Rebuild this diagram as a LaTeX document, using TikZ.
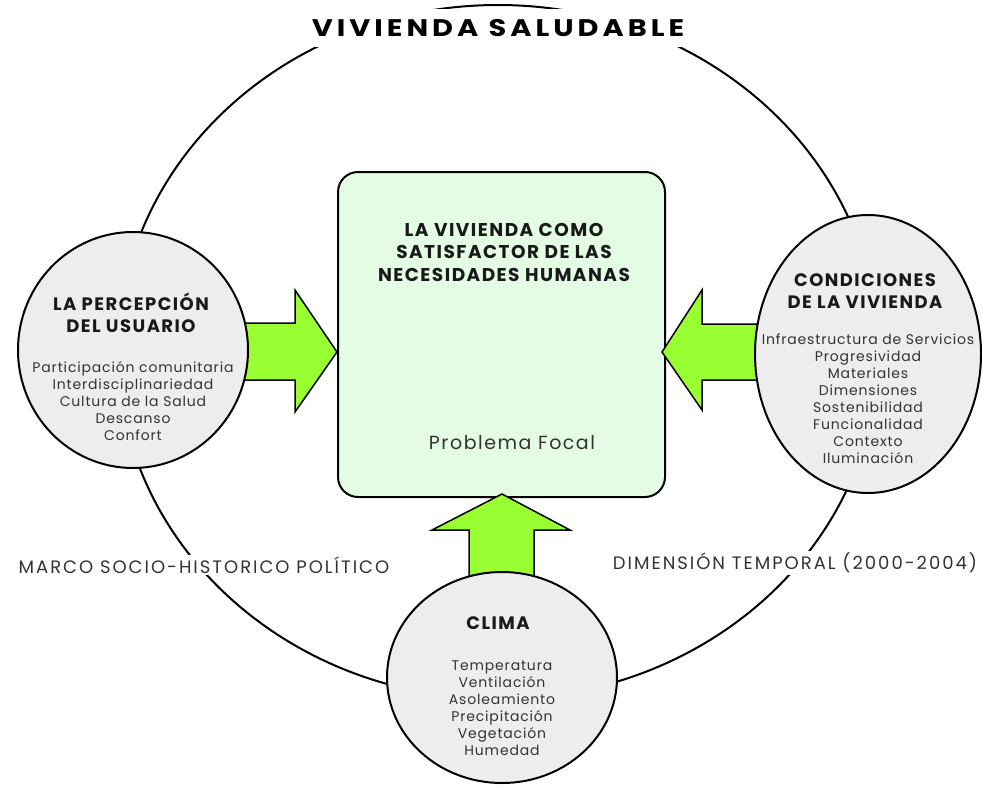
\documentclass[tikz,border=0pt]{standalone}
\usepackage{fontspec}
\setmainfont{Poppins}
\newfontfamily\trackfont[LetterSpace=8]{Poppins}
\newfontfamily\itemfont[LetterSpace=6]{Poppins}
\newfontfamily\titlefont[LetterSpace=14]{Poppins}
\newfontfamily\labelfont[LetterSpace=11]{Poppins}
\usetikzlibrary{shapes.geometric}
\definecolor{boxgreen}{HTML}{E4FCE4}
\definecolor{arrowgreen}{HTML}{99FF33}
\definecolor{circgray}{HTML}{EDEDED}
\definecolor{txtgray}{HTML}{333333}
\tikzset{
  bigring/.style={line width=2pt},
  blockarrow/.style={draw, line width=1.5pt, fill=arrowgreen, line join=miter},
  bubble/.style={ellipse, draw, line width=2pt, fill=circgray, inner sep=0pt},
  focalbox/.style={draw, line width=2pt, fill=boxgreen, rounded corners=20pt, inner sep=0pt},
  heading/.style={font=\trackfont\fontsize{18}{22}\selectfont\bfseries, align=center, text=black!90, inner sep=0pt},
  items/.style={font=\itemfont\fontsize{14}{17}\selectfont, align=center, text=txtgray, inner sep=0pt},
  sidelabel/.style={font=\labelfont\fontsize{18}{22}\selectfont, text=txtgray, fill=white, inner sep=2pt}
}
\begin{document}
\begin{tikzpicture}[x=1pt,y=-1pt]
\useasboundingbox (0,0) rectangle (982,785);
% outer ring
\draw[bigring] (498,352) ellipse [x radius=380, y radius=347];
% title
\fill[white] (300,9) rectangle (702,47);
\node[inner sep=0pt, font=\titlefont\fontsize{24}{28}\selectfont\bfseries] (title) at (498,28)
  {\scalebox{1.2}[1]{VIVIENDA SALUDABLE}};
% side labels
\node[sidelabel] (marco) at (204,565) {MARCO SOCIO-HISTORICO POLÍTICO};
\node[sidelabel] (temporal) at (795,563) {DIMENSIÓN TEMPORAL (2000-2004)};
% central box
\node[focalbox, minimum width=327pt, minimum height=325pt] (focal) at (501.5,334.5) {};
\node[heading, font=\trackfont\fontsize{18.5}{22.5}\selectfont\bfseries] (focalhead) at (504,252)
  {LA VIVIENDA COMO\\SATISFACTOR DE LAS\\NECESIDADES HUMANAS};
\node[items, font=\trackfont\fontsize{19}{22}\selectfont] (focallabel) at (512,443) {Problema Focal};
% block arrows
\draw[blockarrow] (240,323) -- (295,323) -- (295,290) -- (337,352) -- (295,412) -- (295,380) -- (240,380) -- cycle;
\draw[blockarrow] (762,324) -- (702,324) -- (702,290) -- (662,352) -- (702,410) -- (702,380) -- (762,380) -- cycle;
\draw[blockarrow] (469,585) -- (469,530) -- (432,530) -- (502,494) -- (570,530) -- (534,530) -- (534,585) -- cycle;
% bubbles
\node[bubble, minimum width=230pt, minimum height=236pt] (usuario) at (133,350) {};
\node[heading] (usuariohead) at (131,313) {LA PERCEPCIÓN\\DEL USUARIO};
\node[items] (usuarioitems) at (133,401) {Participación comunitaria\\Interdisciplinariedad\\Cultura de la Salud\\Descanso\\Confort};
\node[bubble, minimum width=226pt, minimum height=278pt] (condiciones) at (868,354) {};
\node[heading] (condhead) at (865,291) {CONDICIONES\\DE LA VIVIENDA};
\node[items] (conditems) at (868,399) {Infraestructura de Servicios\\Progresividad\\Materiales\\Dimensiones\\Sostenibilidad\\Funcionalidad\\Contexto\\Iluminación};
\node[bubble, minimum width=230pt, minimum height=211pt] (clima) at (502,677.5) {};
\node[heading] (climahead) at (498,623) {CLIMA};
\node[items] (climaitems) at (502,708) {Temperatura\\Ventilación\\Asoleamiento\\Precipitación\\Vegetación\\Humedad};
\end{tikzpicture}
\end{document}
